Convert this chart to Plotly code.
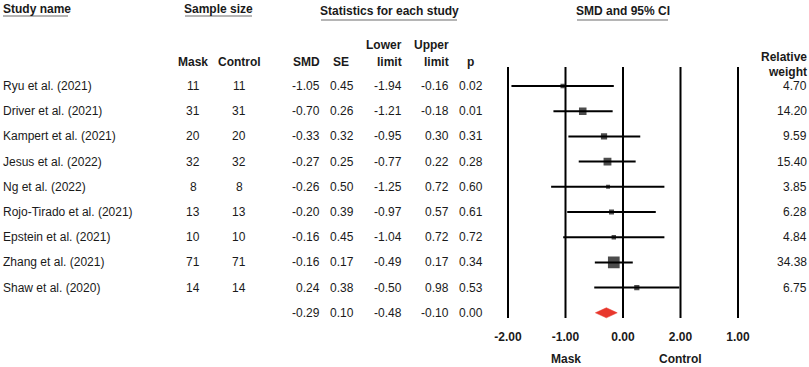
import numpy as np
import plotly.graph_objects as go

# ---------------- data ----------------
studies = ["Ryu et al. (2021)", "Driver et al. (2021)", "Kampert et al. (2021)",
           "Jesus et al. (2022)", "Ng et al. (2022)", "Rojo-Tirado et al. (2021)",
           "Epstein et al. (2021)", "Zhang et al. (2021)", "Shaw et al. (2020)"]
n_mask = [11, 31, 20, 32, 8, 13, 10, 71, 14]
n_control = [11, 31, 20, 32, 8, 13, 10, 71, 14]
smd = [-1.05, -0.70, -0.33, -0.27, -0.26, -0.20, -0.16, -0.16, 0.24]
se = [0.45, 0.26, 0.32, 0.25, 0.50, 0.39, 0.45, 0.17, 0.38]
lower = [-1.94, -1.21, -0.95, -0.77, -1.25, -0.97, -1.04, -0.49, -0.50]
upper = [-0.16, -0.18, 0.30, 0.22, 0.72, 0.57, 0.72, 0.17, 0.98]
pval = [0.02, 0.01, 0.31, 0.28, 0.60, 0.61, 0.72, 0.34, 0.53]
weight = [4.70, 14.20, 9.59, 15.40, 3.85, 6.28, 4.84, 34.38, 6.75]

sum_smd = -0.29
sum_se = 0.10
sum_lower = -0.48
sum_upper = -0.10
sum_p = 0.00

tick_vals = [-2, -1, 0, 1, 2]
tick_text = ["-2.00", "-1.00", "0.00", "2.00", "1.00"]

# ---------------- layout helpers ----------------
W, H = 809, 367
ROW0_PX = 86.0
ROW_H = 25.2
PLOT_BOTTOM_PX = 325.0
X_LEFT_PX, X_RIGHT_PX = 508.0, 738.0   # pixel positions of -2 and +2
PAD = 0.1


def row(px):
    return (px - ROW0_PX) / ROW_H


def pxx(px):
    return px / W


unit = (X_RIGHT_PX - X_LEFT_PX) / 4.0
dom0 = (X_LEFT_PX - PAD * unit) / W
dom1 = (X_RIGHT_PX + PAD * unit) / W

FONT = "Liberation Sans, Arial, sans-serif"
TXT = "#1a1a1a"
FS = 12

n = len(studies)
rows = list(range(n))
sum_row = n

fig = go.Figure()

# vertical reference lines at ticks
for tv in tick_vals:
    fig.add_shape(type="line", xref="x", yref="y", x0=tv, x1=tv,
                  y0=row(67), y1=row(318), line=dict(color="black", width=2))

# study estimates with CI
fig.add_trace(go.Scatter(
    x=smd, y=rows, mode="markers",
    marker=dict(symbol="square", color="black",
                size=[2.0 * np.sqrt(w) for w in weight], line=dict(width=0)),
    error_x=dict(type="data", symmetric=False,
                 array=[u - s for u, s in zip(upper, smd)],
                 arrayminus=[s - l for s, l in zip(smd, lower)],
                 color="black", thickness=2, width=0),
    showlegend=False, hoverinfo="skip"))

# summary diamond
hh = 0.2
fig.add_trace(go.Scatter(
    x=[sum_lower, sum_smd, sum_upper, sum_smd, sum_lower],
    y=[sum_row, sum_row - hh, sum_row, sum_row + hh, sum_row],
    mode="lines", fill="toself", fillcolor="#E8372C",
    line=dict(color="#E8372C", width=0.5),
    showlegend=False, hoverinfo="skip"))

ann = []


def add_text(x_px, y, text, anchor, bold=False, size=FS, color=TXT, yref="y"):
    t = f"<b>{text}</b>" if bold else text
    ann.append(dict(x=pxx(x_px), y=y, xref="paper", yref=yref, text=t,
                    showarrow=False, xanchor=anchor, yanchor="middle",
                    borderpad=0, borderwidth=0,
                    font=dict(family=FONT, size=size, color=color)))


# header group titles
add_text(3, row(9), "Study name", "left", bold=True)
add_text(218.5, row(9), "Sample size", "center", bold=True)
add_text(389, row(10.5), "Statistics for each study", "center", bold=True)
add_text(622.5, row(10.5), "SMD and 95% CI", "center", bold=True)

for (x0, x1, ypx) in [(3, 68, 16), (185, 252, 16), (321, 457, 20), (577, 668, 20)]:
    fig.add_shape(type="line", xref="paper", yref="y", x0=pxx(x0), x1=pxx(x1),
                  y0=row(ypx), y1=row(ypx), line=dict(color="#b5b5b5", width=2))

# column headers
add_text(193, row(62), "Mask", "center", bold=True)
add_text(239, row(62), "Control", "center", bold=True)
add_text(306, row(62), "SMD", "center", bold=True)
add_text(341, row(62), "SE", "center", bold=True)
add_text(402, row(45), "Lower", "right", bold=True)
add_text(402, row(62), "limit", "right", bold=True)
add_text(449, row(45), "Upper", "right", bold=True)
add_text(449, row(62), "limit", "right", bold=True)
add_text(470, row(62), "p", "center", bold=True)
add_text(807, row(57), "Relative", "right", bold=True)
add_text(807, row(72), "weight", "right", bold=True)

# table body
for i in rows:
    add_text(3, i, studies[i], "left")
    add_text(193, i, str(n_mask[i]), "center")
    add_text(239, i, str(n_control[i]), "center")
    add_text(320, i, f"{smd[i]:.2f}", "right")
    add_text(354, i, f"{se[i]:.2f}", "right")
    add_text(402, i, f"{lower[i]:.2f}", "right")
    add_text(449, i, f"{upper[i]:.2f}", "right")
    add_text(483, i, f"{pval[i]:.2f}", "right")
    add_text(807, i, f"{weight[i]:.2f}", "right")

# summary row
add_text(320, sum_row, f"{sum_smd:.2f}", "right")
add_text(354, sum_row, f"{sum_se:.2f}", "right")
add_text(402, sum_row, f"{sum_lower:.2f}", "right")
add_text(449, sum_row, f"{sum_upper:.2f}", "right")
add_text(483, sum_row, f"{sum_p:.2f}", "right")

# favours labels (below the axis, paper y relative to plot area)
fav_y = (PLOT_BOTTOM_PX - 359.0) / PLOT_BOTTOM_PX
for xv, lab in [(-1, "Mask"), (1, "Control")]:
    ann.append(dict(x=xv, y=fav_y, xref="x", yref="paper", text=f"<b>{lab}</b>",
                    showarrow=False, xanchor="center", yanchor="middle",
                    borderpad=0, borderwidth=0,
                    font=dict(family=FONT, size=FS, color=TXT)))

fig.update_layout(
    width=W, height=H,
    margin=dict(l=0, r=0, t=0, b=H - PLOT_BOTTOM_PX, pad=0, autoexpand=False),
    paper_bgcolor="white", plot_bgcolor="white",
    annotations=ann,
    xaxis=dict(domain=[dom0, dom1], range=[-2 - PAD, 2 + PAD],
               tickvals=tick_vals, ticktext=[f"<b>{t}</b>" for t in tick_text],
               showgrid=False, zeroline=False, showline=False, ticks="",
               ticklabelstandoff=3,
               tickfont=dict(family=FONT, size=FS, color=TXT), fixedrange=True),
    yaxis=dict(domain=[0, 1], range=[row(PLOT_BOTTOM_PX), row(0)],
               showgrid=False, zeroline=False, showline=False,
               showticklabels=False, ticks="", fixedrange=True),
    showlegend=False,
)

fig.write_html("out.html", config={"displayModeBar": False},
               post_script="document.body.style.margin='0px';")
